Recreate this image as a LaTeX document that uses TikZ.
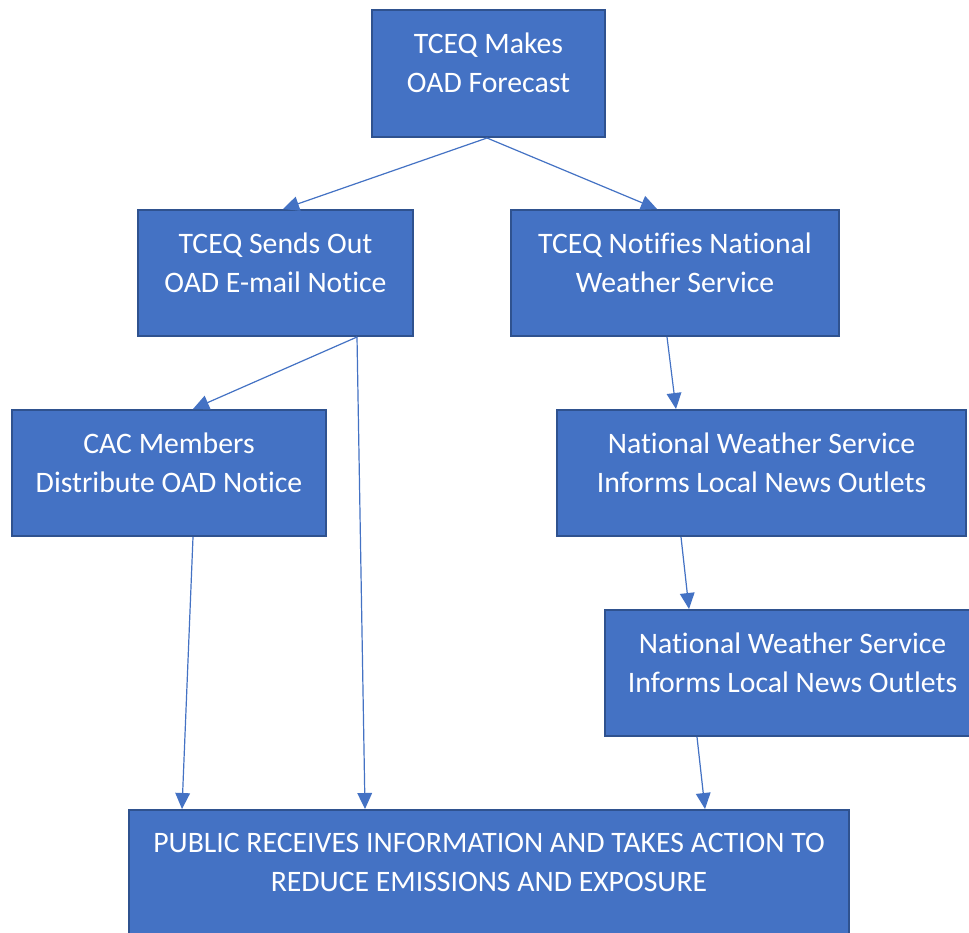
\documentclass[tikz,border=0pt]{standalone}
\usepackage{fontspec}
\setmainfont[Ligatures={NoCommon,NoContextual,NoRequired},RawFeature={-calt}]{Carlito}
\usetikzlibrary{arrows.meta,calc}
\definecolor{boxfill}{HTML}{4472C4}
\definecolor{boxline}{HTML}{2F528F}
\definecolor{arrowc}{HTML}{4472C4}
\newcommand{\nolig}{\kern0pt{}}
\begin{document}
\begin{tikzpicture}[x=0.75pt,y=-0.75pt,
  flowbox/.style={draw=boxline,fill=boxfill,line width=1.5pt,inner sep=0pt},
  boxtext/.style={text=white,align=center,font=\fontsize{22.3pt}{29.25pt}\selectfont,inner sep=0pt},
  conn/.style={draw=arrowc,line width=0.9pt,-{Triangle[length=12pt,width=11pt]}}]
\clip (0,0) rectangle (969,932);
\fill[white] (0,0) rectangle (969,932);
% boxes
\node[flowbox,minimum width=233*0.75pt,minimum height=127*0.75pt] (b1) at (488.5,73.5) {};
\node[flowbox,minimum width=275*0.75pt,minimum height=126*0.75pt] (b2) at (275.5,273) {};
\node[flowbox,minimum width=328*0.75pt,minimum height=126*0.75pt] (b3) at (675,273) {};
\node[flowbox,minimum width=314*0.75pt,minimum height=126*0.75pt] (b4) at (169,473) {};
\node[flowbox,minimum width=409*0.75pt,minimum height=126*0.75pt] (b5) at (761.5,473) {};
\node[flowbox,minimum width=375*0.75pt,minimum height=126*0.75pt] (b6) at (792.5,673) {};
\node[flowbox,minimum width=720*0.75pt,minimum height=127*0.75pt] (b7) at (489,873.5) {};
% texts
\node[boxtext] (t1) at ($(b1.north)+(0,53.5)$) {TCEQ Makes\\OAD Forecast};
\node[boxtext] (t2) at ($(b2.north)+(0,53.5)$) {TCEQ Sends Out\\OAD E-mail Not\nolig ice};
\node[boxtext] (t3) at ($(b3.north)+(0,53.5)$) {TCEQ Not\nolig if\nolig ies Nat\nolig ional\\Weather Service};
\node[boxtext] (t4) at ($(b4.north)+(0,53.5)$) {CAC Members\\Distribute OAD Not\nolig ice};
\node[boxtext] (t5) at ($(b5.north)+(0,53.5)$) {Nat\nolig ional Weather Service\\Informs Local News Outlets};
\node[boxtext] (t6) at ($(b6.north)+(0,53.5)$) {Nat\nolig ional Weather Service\\Informs Local News Outlets};
\node[boxtext] (t7) at ($(b7.north)+(0,53.5)$) {PUBLIC RECEIVES INFORMATION AND TAKES ACTION TO\\REDUCE EMISSIONS AND EXPOSURE};
% connectors
\draw[conn] ([xshift=-1.5*0.75pt]b1.south) -- ([xshift=7.5*0.75pt]b2.north);
\draw[conn] ([xshift=-1.5*0.75pt]b1.south) -- ([xshift=-18*0.75pt]b3.north);
\draw[conn] ([xshift=81.5*0.75pt]b2.south) -- ([xshift=24*0.75pt]b4.north);
\draw[conn] ([xshift=81.5*0.75pt]b2.south) -- ([xshift=-124*0.75pt]b7.north);
\draw[conn] ([xshift=-8*0.75pt]b3.south) -- ([xshift=-85.5*0.75pt]b5.north);
\draw[conn] ([xshift=-80.5*0.75pt]b5.south) -- ([xshift=-103.5*0.75pt]b6.north);
\draw[conn] ([xshift=24*0.75pt]b4.south) -- ([xshift=-307*0.75pt]b7.north);
\draw[conn] ([xshift=-95.5*0.75pt]b6.south) -- ([xshift=216*0.75pt]b7.north);
\end{tikzpicture}
\end{document}
